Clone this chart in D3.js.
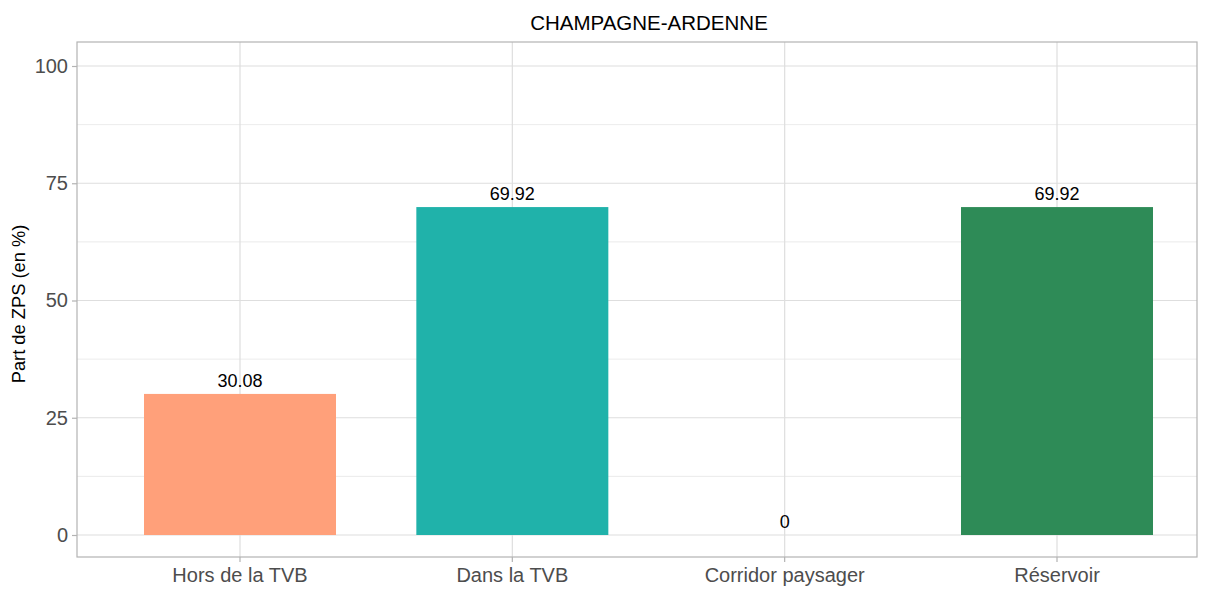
<!DOCTYPE html>
<html>
<head>
<meta charset="utf-8">
<script src="https://cdn.jsdelivr.net/npm/d3@7"></script>
<style>
  body { margin: 0; background: #fff; }
  svg { display: block; font-family: "Liberation Sans", Arial, sans-serif; }
</style>
</head>
<body>
<svg id="chart" width="1212" height="589"></svg>
<script>
// Share of ZPS area by TVB category, Champagne-Ardenne
const categories = ["Hors de la TVB", "Dans la TVB", "Corridor paysager", "Réservoir"];
const values = [30.08, 69.92, 0, 69.92];
const colors = ["#FFA07A", "#20B2AA", "#7B68EE", "#2E8B57"];
const yTicks = [0, 25, 50, 75, 100];
const yMinorTicks = [12.5, 37.5, 62.5, 87.5];
const title = "CHAMPAGNE-ARDENNE";
const yLabel = "Part de ZPS (en %)";

const svg = d3.select("#chart");
const panel = { left: 77, right: 1197, top: 42, bottom: 557 };

const x = d3.scaleBand()
  .domain(categories)
  .range([144, 1153])
  .paddingInner(0.295)
  .paddingOuter(0);

const y = d3.scaleLinear().domain([0, 100]).range([535, 66]);

// grid
const grid = svg.append("g");
grid.selectAll(".minor").data(yMinorTicks).join("line")
  .attr("x1", panel.left).attr("x2", panel.right)
  .attr("y1", d => y(d)).attr("y2", d => y(d))
  .attr("stroke", "#e3e3e3").attr("stroke-width", 0.7);
grid.selectAll(".major").data(yTicks).join("line")
  .attr("x1", panel.left).attr("x2", panel.right)
  .attr("y1", d => y(d)).attr("y2", d => y(d))
  .attr("stroke", "#dedede").attr("stroke-width", 1.2);
grid.selectAll(".vmajor").data(categories).join("line")
  .attr("x1", d => x(d) + x.bandwidth() / 2).attr("x2", d => x(d) + x.bandwidth() / 2)
  .attr("y1", panel.top).attr("y2", panel.bottom)
  .attr("stroke", "#dedede").attr("stroke-width", 1.2);

// bars
svg.append("g").selectAll("rect").data(categories).join("rect")
  .attr("x", d => x(d))
  .attr("width", x.bandwidth())
  .attr("y", (d, i) => y(values[i]))
  .attr("height", (d, i) => y(0) - y(values[i]))
  .attr("fill", (d, i) => colors[i]);

// value labels
svg.append("g").selectAll("text").data(categories).join("text")
  .attr("x", d => x(d) + x.bandwidth() / 2)
  .attr("y", (d, i) => y(values[i]) - 7)
  .attr("text-anchor", "middle")
  .attr("font-size", 18)
  .attr("fill", "#000")
  .text((d, i) => String(values[i]));

// panel border
svg.append("rect")
  .attr("x", panel.left).attr("y", panel.top)
  .attr("width", panel.right - panel.left).attr("height", panel.bottom - panel.top)
  .attr("fill", "none").attr("stroke", "#b3b3b3").attr("stroke-width", 1.2);

// y axis
const yAxis = svg.append("g")
  .attr("transform", `translate(${panel.left},0)`)
  .call(d3.axisLeft(y).tickValues(yTicks).tickSize(5).tickPadding(4));
yAxis.select(".domain").remove();
yAxis.selectAll("line").attr("stroke", "#b3b3b3").attr("stroke-width", 1.2);
yAxis.selectAll("text").attr("font-size", 20).attr("fill", "#4d4d4d")
  .attr("font-family", "Liberation Sans, Arial, sans-serif");

// x axis
const xAxis = svg.append("g")
  .attr("transform", `translate(0,${panel.bottom})`)
  .call(d3.axisBottom(x).tickSize(5).tickPadding(6));
xAxis.select(".domain").remove();
xAxis.selectAll("line").attr("stroke", "#b3b3b3").attr("stroke-width", 1.2);
xAxis.selectAll("text").attr("font-size", 20).attr("fill", "#4d4d4d")
  .attr("font-family", "Liberation Sans, Arial, sans-serif");

// title
svg.append("text")
  .attr("x", 649).attr("y", 30)
  .attr("text-anchor", "middle")
  .attr("font-size", 20.5)
  .attr("fill", "#000")
  .text(title);

// y label
svg.append("text")
  .attr("transform", `translate(25,304) rotate(-90)`)
  .attr("text-anchor", "middle")
  .attr("font-size", 18.3)
  .attr("fill", "#000")
  .text(yLabel);
</script>
</body>
</html>
